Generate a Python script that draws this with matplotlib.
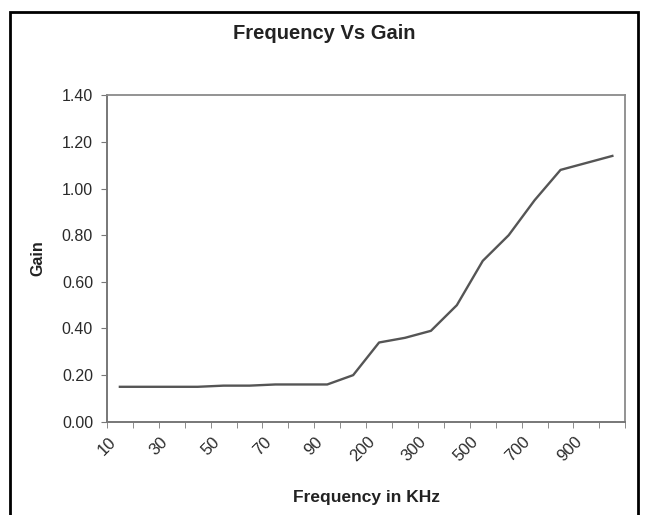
import numpy as np
import matplotlib
matplotlib.use("Agg")
import matplotlib.pyplot as plt
from matplotlib.patches import Rectangle
from matplotlib.transforms import ScaledTranslation

plt.rcParams['font.family'] = ['Liberation Sans', 'DejaVu Sans']

# frequency categories (kHz) and measured gain
freq = [10, 20, 30, 40, 50, 60, 70, 80, 90, 100,
        200, 250, 300, 400, 500, 600, 700, 800, 900, 1000]
gain = [0.15, 0.15, 0.15, 0.15, 0.155, 0.155, 0.16, 0.16, 0.16, 0.20,
        0.34, 0.36, 0.39, 0.50, 0.69, 0.80, 0.95, 1.08, 1.11, 1.14]
y_ticks = [0.0, 0.2, 0.4, 0.6, 0.8, 1.0, 1.2, 1.4]

fig = plt.figure(figsize=(6.48, 5.15), dpi=100)
ax = fig.add_axes([0.165, 0.181, 0.800, 0.634])

x = np.arange(len(freq))
ax.plot(x, gain, color='#555555', linewidth=1.7, solid_joinstyle='round')

ax.set_xlim(-0.5, len(freq) - 0.5)
ax.set_ylim(0, 1.4)

# labels every other category, tick marks between categories (Excel style)
ax.set_xticks(x[::2])
ax.set_xticklabels([str(f) for f in freq[::2]], rotation=45, ha='right',
                   rotation_mode='anchor', fontsize=12, color='#2a2a2a')
ax.tick_params(axis='x', which='major', length=0, pad=9)
shift = ScaledTranslation(-12 / 100, 0, fig.dpi_scale_trans)
for lbl in ax.get_xticklabels():
    lbl.set_transform(lbl.get_transform() + shift)
ax.set_xticks(np.arange(-0.5, len(freq), 1), minor=True)
ax.tick_params(axis='x', which='minor', length=4, color='#777777', direction='out')

ax.set_yticks(y_ticks)
ax.set_yticklabels([f"{v:.2f}" for v in y_ticks], fontsize=11.5, color='#2a2a2a')
ax.tick_params(axis='y', length=4, color='#777777', direction='out', pad=6)

for side in ['left', 'bottom']:
    ax.spines[side].set_color('#777777')
    ax.spines[side].set_linewidth(1.4)
for side in ['top', 'right']:
    ax.spines[side].set_color('#8a8a8a')
    ax.spines[side].set_linewidth(1.3)

ax.set_xlabel('Frequency in KHz', fontsize=12.5, fontweight='bold', color='#222222', labelpad=18)
ax.set_ylabel('Gain', fontsize=11.5, fontweight='bold', color='#222222', labelpad=12)
fig.text(0.50, 0.935, 'Frequency Vs Gain', ha='center', va='center',
         fontsize=14.5, fontweight='bold', color='#222222')

# outer chart frame
fig.patches.append(Rectangle((0.016, -0.02), 0.968, 0.996, transform=fig.transFigure,
                             fill=False, edgecolor='black', linewidth=2))

fig.savefig('out.png', dpi=100)
